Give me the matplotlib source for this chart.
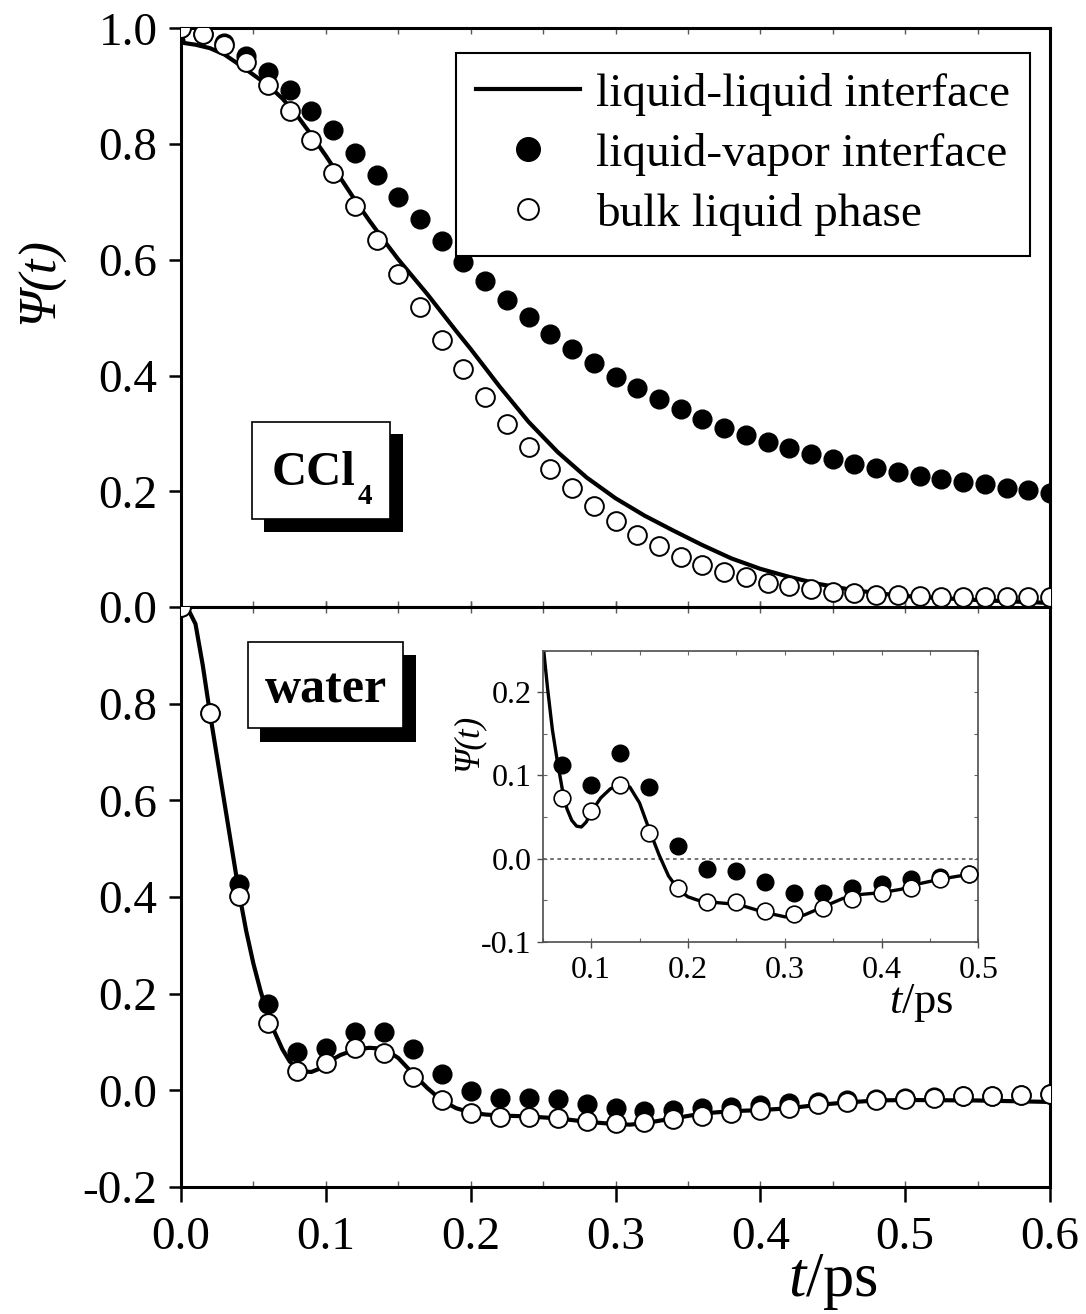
import numpy as np
import matplotlib
matplotlib.use("Agg")
import matplotlib.pyplot as plt
from matplotlib.patches import Rectangle
from matplotlib.ticker import MultipleLocator

plt.rcParams['font.family'] = ['Liberation Serif', 'DejaVu Serif']
plt.rcParams['mathtext.fontset'] = 'custom'
plt.rcParams['mathtext.rm'] = 'Liberation Serif'
plt.rcParams['mathtext.it'] = 'Liberation Serif:italic'
plt.rcParams['mathtext.bf'] = 'Liberation Serif:bold'

# ---- CCl4 ----
ccl4_t = np.linspace(0.0, 0.6, 41)
ccl4_vapor = [1.000, 0.990, 0.975, 0.953, 0.925, 0.893, 0.858, 0.824, 0.785, 0.746,
              0.708, 0.670, 0.632, 0.597, 0.563, 0.530, 0.501, 0.472, 0.446, 0.422,
              0.398, 0.378, 0.359, 0.342, 0.325, 0.310, 0.297, 0.286, 0.274, 0.264,
              0.255, 0.247, 0.240, 0.233, 0.227, 0.221, 0.216, 0.212, 0.206, 0.202,
              0.197]
ccl4_bulk = [1.000, 0.991, 0.972, 0.942, 0.903, 0.857, 0.807, 0.750, 0.693, 0.634,
             0.575, 0.518, 0.462, 0.411, 0.363, 0.317, 0.276, 0.238, 0.205, 0.174,
             0.148, 0.124, 0.105, 0.087, 0.072, 0.061, 0.051, 0.042, 0.036, 0.031,
             0.026, 0.024, 0.021, 0.020, 0.019, 0.018, 0.018, 0.017, 0.017, 0.017,
             0.017]
ccl4_line_t = [0, 0.002, 0.01, 0.02, 0.03, 0.04, 0.05, 0.06, 0.07, 0.08, 0.09, 0.10,
               0.11, 0.12, 0.13, 0.14, 0.15, 0.16, 0.17, 0.18, 0.19, 0.20, 0.22, 0.24,
               0.26, 0.28, 0.30, 0.32, 0.34, 0.36, 0.38, 0.40, 0.42, 0.44, 0.46, 0.48,
               0.50, 0.52, 0.55, 0.58, 0.60]
ccl4_line = [1.0, 0.975, 0.972, 0.966, 0.955, 0.938, 0.920, 0.902, 0.879, 0.850, 0.816,
             0.780, 0.742, 0.704, 0.668, 0.634, 0.601, 0.571, 0.541, 0.509, 0.477,
             0.446, 0.381, 0.320, 0.268, 0.224, 0.188, 0.158, 0.132, 0.107, 0.084,
             0.066, 0.052, 0.040, 0.031, 0.024, 0.019, 0.016, 0.012, 0.009, 0.007]

# ---- water ----
water_t = np.linspace(0.0, 0.6, 31)
water_vapor = [1.000, 0.780, 0.427, 0.179, 0.080, 0.087, 0.120, 0.121, 0.085, 0.034,
               -0.001, -0.015, -0.015, -0.018, -0.028, -0.037, -0.042, -0.041, -0.037, -0.034,
               -0.030, -0.027, -0.024, -0.020, -0.018, -0.016, -0.014, -0.012, -0.011, -0.010,
               -0.008]
water_bulk = [1.000, 0.781, 0.402, 0.139, 0.041, 0.056, 0.087, 0.078, 0.028, -0.020,
              -0.046, -0.055, -0.055, -0.057, -0.063, -0.067, -0.065, -0.059, -0.053, -0.046,
              -0.041, -0.036, -0.028, -0.024, -0.020, -0.018, -0.015, -0.012, -0.012, -0.010,
              -0.008]
water_line_t = [0, 0.005, 0.01, 0.015, 0.02, 0.03, 0.04, 0.045, 0.05, 0.055, 0.06, 0.065,
                0.07, 0.075, 0.08, 0.085, 0.09, 0.095, 0.10, 0.11, 0.12, 0.13, 0.14, 0.15,
                0.16, 0.17, 0.18, 0.19, 0.20, 0.21, 0.22, 0.24, 0.26, 0.28, 0.30, 0.31,
                0.32, 0.34, 0.36, 0.38, 0.40, 0.42, 0.44, 0.46, 0.48, 0.50, 0.55, 0.60]
water_line = [1.0, 0.995, 0.965, 0.88, 0.78, 0.595, 0.41, 0.33, 0.262, 0.205, 0.155, 0.118,
              0.085, 0.060, 0.046, 0.039, 0.038, 0.044, 0.056, 0.073, 0.084, 0.088, 0.086,
              0.067, 0.035, 0.005, -0.021, -0.037, -0.046, -0.050, -0.052, -0.054, -0.058,
              -0.065, -0.070, -0.071, -0.068, -0.058, -0.048, -0.043, -0.041, -0.037,
              -0.030, -0.025, -0.021, -0.020, -0.021, -0.024]

# inset (water, coarser sampling)
inset_t = [0.07, 0.10, 0.13, 0.16, 0.19, 0.22, 0.25, 0.28, 0.31, 0.34, 0.37, 0.40, 0.43, 0.46, 0.49]
inset_vapor = [0.113, 0.088, 0.127, 0.086, 0.015, -0.012, -0.015, -0.028, -0.042, -0.042,
               -0.035, -0.030, -0.025, -0.022, -0.018]
inset_bulk = [0.073, 0.057, 0.089, 0.031, -0.035, -0.052, -0.052, -0.063, -0.067, -0.059,
              -0.049, -0.042, -0.035, -0.025, -0.019]

labels = ['liquid-liquid interface', 'liquid-vapor interface', 'bulk liquid phase']

W, H = 1086, 1314


def box(x0, y0, x1, y1):
    # pixel box (top-left origin) -> figure fraction rect
    return [x0 / W, 1 - y1 / H, (x1 - x0) / W, (y1 - y0) / H]


def draw_panel(ax, t, vapor, bulk, lt, line, ms=13.5, lw=3.0):
    l, = ax.plot(lt, line, color='black', lw=lw, zorder=2)
    f, = ax.plot(t, vapor, 'o', color='black', ms=ms, mec='black', zorder=3)
    o, = ax.plot(t, bulk, 'o', mfc='white', mec='black', mew=1.4, ms=ms, zorder=4)
    return l, f, o


fig = plt.figure(figsize=(W / 100, H / 100), dpi=100)
ax1 = fig.add_axes(box(181, 28.5, 1050, 607))
ax2 = fig.add_axes(box(181, 607, 1050, 1187))

h = draw_panel(ax1, ccl4_t, ccl4_vapor, ccl4_bulk, ccl4_line_t, ccl4_line)
draw_panel(ax2, water_t, water_vapor, water_bulk, water_line_t, water_line)

ax1.set_ylim(0, 1.0)
ax1.set_yticks([0.0, 0.2, 0.4, 0.6, 0.8, 1.0])
ax2.set_ylim(-0.2, 1.0)
ax2.set_yticks([-0.2, 0.0, 0.2, 0.4, 0.6, 0.8])

for ax in (ax1, ax2):
    ax.set_xlim(0, 0.6)
    ax.xaxis.set_major_locator(MultipleLocator(0.1))
    ax.xaxis.set_minor_locator(MultipleLocator(0.05))
    ax.xaxis.remove_overlapping_locs = False
    ax.yaxis.set_major_formatter(plt.FuncFormatter(lambda v, p: f'{v:.1f}'))
    ax.xaxis.set_major_formatter(plt.FuncFormatter(lambda v, p: f'{v:.1f}'))
    for s in ax.spines.values():
        s.set_linewidth(2.2)
    ax.tick_params(axis='y', which='major', direction='out', length=9, width=1.8,
                   pad=8, labelsize=34, right=False)
    ax.tick_params(axis='x', which='minor', direction='in', length=4, width=1,
                   color='0.35', top=True, bottom=True)

ax1.tick_params(axis='x', which='major', direction='in', length=4, width=1,
                color='0.35', top=False, labelbottom=False)
ax2.tick_params(axis='x', which='major', direction='out', length=11, width=1.8,
                pad=10, labelsize=34, top=False)

leg = ax1.legend(h, labels, loc='upper right',
                 bbox_to_anchor=((1030 - 181) / 869, (607 - 53) / 578.5),
                 fontsize=34, frameon=True, fancybox=False, edgecolor='black',
                 framealpha=1, borderpad=0.42, labelspacing=0.36, handlelength=2.2,
                 handletextpad=0.35, borderaxespad=0, numpoints=1)
leg.get_frame().set_linewidth(1.5)
leg.legend_handles[1].set_markersize(17)
leg.legend_handles[2].set_markersize(15)

# inset with the water curves near zero
ins = fig.add_axes(box(542.7, 650.7, 978.3, 941.7))
ins.axhline(0, color='0.4', lw=1.3, ls=(0, (2, 2)), zorder=1)
ins.plot(water_line_t, water_line, color='black', lw=2.4, zorder=2)
ins.plot(inset_t, inset_vapor, 'o', color='black', ms=12, zorder=3)
ins.plot(inset_t, inset_bulk, 'o', mfc='white', mec='black', mew=1.2, ms=12, zorder=4)
ins.set_xlim(0.05, 0.5)
ins.set_ylim(-0.1, 0.25)
ins.xaxis.set_major_locator(MultipleLocator(0.1))
ins.xaxis.set_minor_locator(MultipleLocator(0.05))
ins.yaxis.set_major_locator(MultipleLocator(0.1))
ins.yaxis.set_minor_locator(MultipleLocator(0.05))
ins.xaxis.remove_overlapping_locs = False
ins.yaxis.remove_overlapping_locs = False
ins.xaxis.set_major_formatter(plt.FuncFormatter(lambda v, p: f'{v:.1f}'))
ins.yaxis.set_major_formatter(plt.FuncFormatter(lambda v, p: f'{v:.1f}'))
for s in ins.spines.values():
    s.set_linewidth(1.2)
    s.set_color('0.3')
ins.tick_params(which='major', direction='out', length=4, width=1, color='0.3',
                labelsize=23, pad=4)
ins.tick_params(axis='x', which='major', pad=6)
ins.tick_params(which='minor', direction='in', length=3, width=0.8, color='0.4',
                top=True, right=True, bottom=True, left=True)

# overlay in pixel coordinates for labels and the shadowed boxes
ov = fig.add_axes([0, 0, 1, 1])
ov.set_xlim(0, W)
ov.set_ylim(H, 0)
ov.axis('off')
ov.patch.set_alpha(0)

ov.add_patch(Rectangle((264, 434), 139, 98, facecolor='black', edgecolor='none'))
ov.add_patch(Rectangle((252, 422), 138, 97, facecolor='white', edgecolor='black', lw=1.2))
ov.text(272, 485, 'CCl', fontsize=35, fontweight='bold', ha='left', va='baseline')
ov.text(358, 504, '4', fontsize=21, fontweight='bold', ha='left', va='baseline')

ov.add_patch(Rectangle((260, 655), 156, 87, facecolor='black', edgecolor='none'))
ov.add_patch(Rectangle((248, 642), 155, 86, facecolor='white', edgecolor='black', lw=1.2))
ov.text(326, 702, 'water', fontsize=36, fontweight='bold', ha='center', va='baseline')

ov.text(40, 281, 'Ψ(t)', fontsize=38, fontstyle='italic', rotation=90,
        ha='center', va='center')
ov.text(833, 1282, r'$t$/ps', fontsize=45, ha='center', va='center')
ov.text(468, 742, 'Ψ(t)', fontsize=25, fontstyle='italic', rotation=90,
        ha='center', va='center')
ov.text(921, 1003, r'$t$/ps', fontsize=32, ha='center', va='center')

fig.savefig('out.png', dpi=100)
